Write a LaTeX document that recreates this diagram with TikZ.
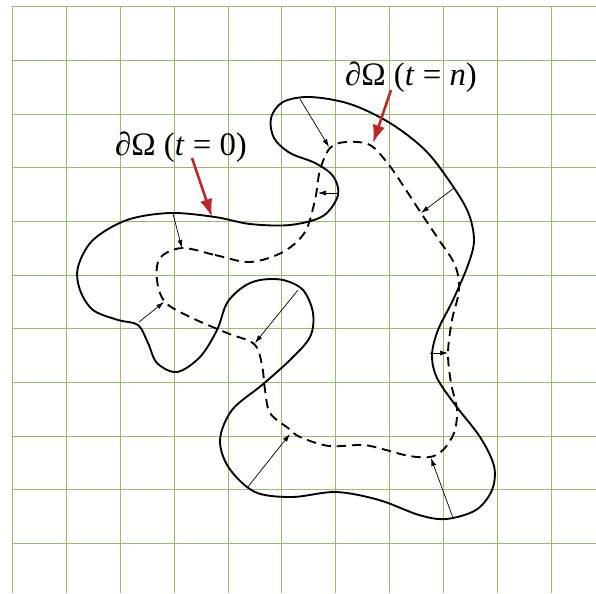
\documentclass[tikz,border=0pt]{standalone}
\usepackage{fontspec}
\setmainfont{Liberation Serif}
\usetikzlibrary{arrows.meta}
\definecolor{gridGreen}{RGB}{150,190,100}
\definecolor{markRed} {RGB}{190, 38, 38}

\begin{document}
\begin{tikzpicture}[
  x=0.03cm,y=-0.03cm,
  gridline/.style={draw=gridGreen,line width=0.045cm},
  front0/.style={draw=black,line width=1.6pt},
  frontn/.style={draw=black,line width=1.6pt,dash pattern=on 8pt off 5pt},
  move/.style={-{Latex[length=2.4mm,width=1.5mm]},line width=0.6pt},
  pointer/.style={draw=markRed,line width=2.2pt,-{Latex[length=5.4mm,width=3.8mm]}},
  tag/.style={font=\fontsize{28}{32}\selectfont,inner sep=0pt}
]
\useasboundingbox (0,0) rectangle (596,593);
\fill[white] (0,0) rectangle (596,593);

% grid
\foreach \gx in {12,66,120,174,228,281,335,389,443,497,551}
  \draw[gridline] (\gx+0.5,6) -- (\gx+0.5,593);
\foreach \gy in {6,60,114,167,221,275,328,382,436,489,543}
  \draw[gridline] (12,\gy+0.5) -- (596,\gy+0.5);

% boundary at t=0
\draw[front0] plot[smooth cycle,tension=0.55] coordinates {
  (127,220) (170,213) (215,217) (250,224) (290,225) (323,216) (338,195)
  (333,176) (315,163) (290,153) (274,138) (271,118) (283,102) (310,97)
  (350,104) (390,123) (425,150) (450,182) (468,212) (474,240) (468,265)
  (453,300) (438,330) (432,355) (437,378) (456,406) (480,437) (494,466)
  (492,490) (476,510) (446,519) (419,515) (379,500) (336,492) (292,497)
  (255,492) (229,468) (220,440) (232,410) (262,385) (290,360)
  (310,337) (313,313) (303,290) (283,280) (260,280) (243,287) (227,303)
  (217,330) (200,357) (177,372) (157,363) (148,343) (138,325) (118,320)
  (93,310) (80,290) (78,267) (93,240)};

% boundary at t=n
\draw[frontn] plot[smooth cycle,tension=0.55] coordinates {
  (182,248) (215,255) (250,262) (283,252) (305,232) (315,200) (320,170)
  (330,148) (346,142) (370,145) (389,165) (406,190) (421,213) (439,240)
  (455,265) (459,290) (452,320) (448,353) (451,383) (457,410) (454,433)
  (443,450) (430,457) (409,456) (386,450) (363,445) (329,446) (300,437)
  (288,428) (270,413) (265,390) (262,365) (254,344) (227,333) (190,317)
  (165,302) (157,280) (160,258)};

% motion arrows
\coordinate (s1) at (173,214); \coordinate (d1) at (182,248);
\coordinate (s2) at (139,322); \coordinate (d2) at (164,302);
\coordinate (s3) at (298,290); \coordinate (d3) at (255,343);
\coordinate (s4) at (338,193); \coordinate (d4) at (318,193);
\coordinate (s5) at (300,99);  \coordinate (d5) at (329,147);
\coordinate (s6) at (454,188); \coordinate (d6) at (421,213);
\coordinate (s7) at (430,353); \coordinate (d7) at (448,353);
\coordinate (s8) at (453,518); \coordinate (d8) at (431,458);
\coordinate (s9) at (247,488); \coordinate (d9) at (290,434);
\foreach \k in {1,...,9}
  \draw[move] (s\k) -- (d\k);

% labels
\node[tag] (lab0) at (181,147) {∂Ω (\textit{t} = 0)};
\node[tag] (labn) at (411,77)  {∂Ω (\textit{t} = \textit{n})};
\coordinate (r0) at (192,158); \coordinate (h0) at (212,217);
\coordinate (rn) at (391,90);  \coordinate (hn) at (373,143);
\draw[pointer] (r0) -- (h0);
\draw[pointer] (rn) -- (hn);
\end{tikzpicture}
\end{document}
